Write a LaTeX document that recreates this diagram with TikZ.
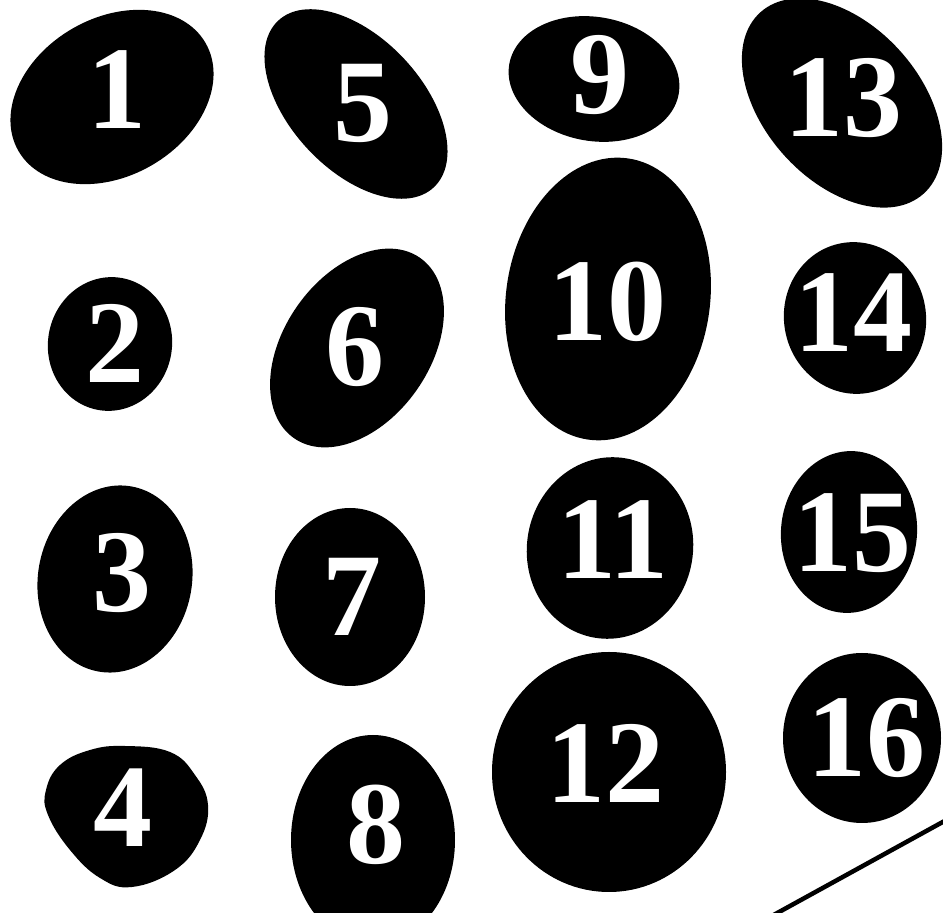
\documentclass[tikz,border=0pt]{standalone}
\usepackage{fontspec}
\setmainfont{Liberation Serif}
\usepackage{tikz}
\definecolor{blobfill}{RGB}{0,0,0}

\begin{document}
\begin{tikzpicture}[x=1pt, y=1pt,
    blob/.style={fill=blobfill},
    num/.style={text=white, inner sep=0pt,
      font=\fontsize{118}{118}\selectfont\bfseries}]
        \clip (0,0) rectangle (943,913);
        % Elliptic blobs: number/centre/radii/angle/label position
        \foreach \n/\cx/\cy/\ra/\rb/\ang/\lx/\ly in {
            1/112/816/108/79/30/117/823,   5/356/809/114/66/-47/363/810,
            9/594/834/86/62/-10/600/838,   13/842/810/122/78/-48/843/815,
            2/110/569/67/62/80/115/570,    6/357/565/110/73/55/355/566,
            10/608/614/142/102/82/607/611, 14/855/595/76/71/100/853/600,
            3/115/334/94/77/80/122/340,    7/350/316/89/75/90/352/316,
            11/610/365/91/83/80/613/373,   15/849/381/81/68/85/852/380,
            8/373/73/105/82/90/376/88,     12/609/141/120/117/90/605/150,
            16/862/175/85/79/90/866/175}{
          \fill[blob, rotate around={\ang:(\cx,\cy)}] (\cx,\cy) ellipse ({\ra} and {\rb});
          \node[num] (num\n) at (\lx,\ly) {\n};
        }
        % Odd blob for 4
        \fill[blob] plot[smooth cycle, tension=0.7] coordinates {
          (170,161) (195,138) (208,108) (200,73) (175,43) (132,26)
          (100,35) (70,63) (48,98) (46,123) (60,148) (90,163) (125,167)};
        \node[num] (num4) at (123,105) {4};
        % Stray stroke, bottom right
        \coordinate (strokeA) at (770,-4);
        \coordinate (strokeB) at (950,95);
        \draw[line width=4.5pt] (strokeA) -- (strokeB);
      \end{tikzpicture}
\end{document}
